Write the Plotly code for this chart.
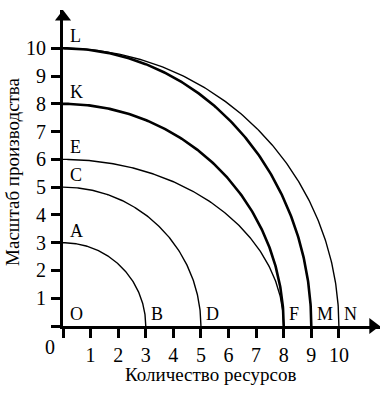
import numpy as np
import plotly.graph_objects as go

# Production possibility curves: x-intercept (resources) and y-intercept (scale)
curve_names = ["AB", "CD", "EF", "KF", "LM", "LN"]
x_intercepts = [3, 5, 8, 8, 9, 10]
y_intercepts = [3, 5, 6, 8, 10, 10]
thick = [False, False, False, True, True, False]

y_point_labels = ["A", "C", "E", "K", "L"]
y_point_values = [3, 5, 6, 8, 10]
x_point_labels = ["B", "D", "F", "M", "N"]
x_point_values = [3, 5, 8, 9, 10]

tick_vals = [0, 1, 2, 3, 4, 5, 6, 7, 8, 9, 10]
tick_text = ["", "1", "2", "3", "4", "5", "6", "7", "8", "9", "10"]

X_MAX = 11.49
Y_MAX = 11.38
FONT = "Times New Roman, Liberation Serif, DejaVu Serif, serif"

fig = go.Figure()
t = np.linspace(0, np.pi / 2, 200)
for name, a, b, th in zip(curve_names, x_intercepts, y_intercepts, thick):
    fig.add_trace(go.Scatter(
        x=a * np.cos(t), y=b * np.sin(t), mode="lines", name=name,
        line=dict(color="black", width=2.6 if th else 1.4),
        hoverinfo="skip", showlegend=False, cliponaxis=False))

# arrowheads of the axes
fig.add_trace(go.Scatter(x=[0], y=[11.13], mode="markers", showlegend=False,
                         marker=dict(symbol="triangle-up", size=14, color="black"),
                         cliponaxis=False, hoverinfo="skip"))
fig.add_trace(go.Scatter(x=[11.23], y=[0], mode="markers", showlegend=False,
                         marker=dict(symbol="triangle-right", size=14, color="black"),
                         cliponaxis=False, hoverinfo="skip"))

ann = []
for lab, v in zip(y_point_labels, y_point_values):
    ann.append(dict(x=0.18, y=v, text=lab, showarrow=False, xanchor="left",
                    yanchor="bottom", font=dict(family=FONT, size=18, color="black")))
for lab, v in zip(x_point_labels, x_point_values):
    ann.append(dict(x=v + 0.12, y=0, text=lab, showarrow=False, xanchor="left",
                    yanchor="bottom", font=dict(family=FONT, size=18, color="black")))
ann.append(dict(x=0.18, y=0, text="O", showarrow=False, xanchor="left",
                yanchor="bottom", font=dict(family=FONT, size=18, color="black")))
ann.append(dict(xref="paper", yref="paper", x=-0.47 / X_MAX, y=-0.76 / Y_MAX,
                xanchor="center", yanchor="middle",
                text="0", showarrow=False, font=dict(family=FONT, size=20, color="black")))
ann.append(dict(xref="paper", yref="paper", x=-1.81 / X_MAX, y=5.55 / Y_MAX,
                xanchor="center", yanchor="middle",
                text="Масштаб производства", textangle=-90, showarrow=False,
                font=dict(family=FONT, size=19, color="black")))
ann.append(dict(xref="paper", yref="paper", x=5.33 / X_MAX, y=-1.76 / Y_MAX,
                xanchor="center", yanchor="middle",
                text="Количество ресурсов", showarrow=False,
                font=dict(family=FONT, size=19, color="black")))

axis_common = dict(
    tickvals=tick_vals, ticktext=tick_text, ticks="outside", ticklen=9,
    tickwidth=2.5, tickcolor="black", showline=True, linewidth=3,
    linecolor="black", showgrid=False, zeroline=False,
    tickfont=dict(family=FONT, size=20, color="black"),
)
fig.update_layout(
    width=389, height=396,
    margin=dict(l=63, r=9, t=10, b=70),
    paper_bgcolor="white", plot_bgcolor="white",
    xaxis=dict(range=[0, X_MAX], **axis_common),
    yaxis=dict(range=[0, Y_MAX], ticklabelstandoff=1, **axis_common),
    annotations=ann,
)
fig.write_html("out.html", config={"displayModeBar": False},
               post_script="document.body.style.margin='0';document.body.style.padding='0';")
